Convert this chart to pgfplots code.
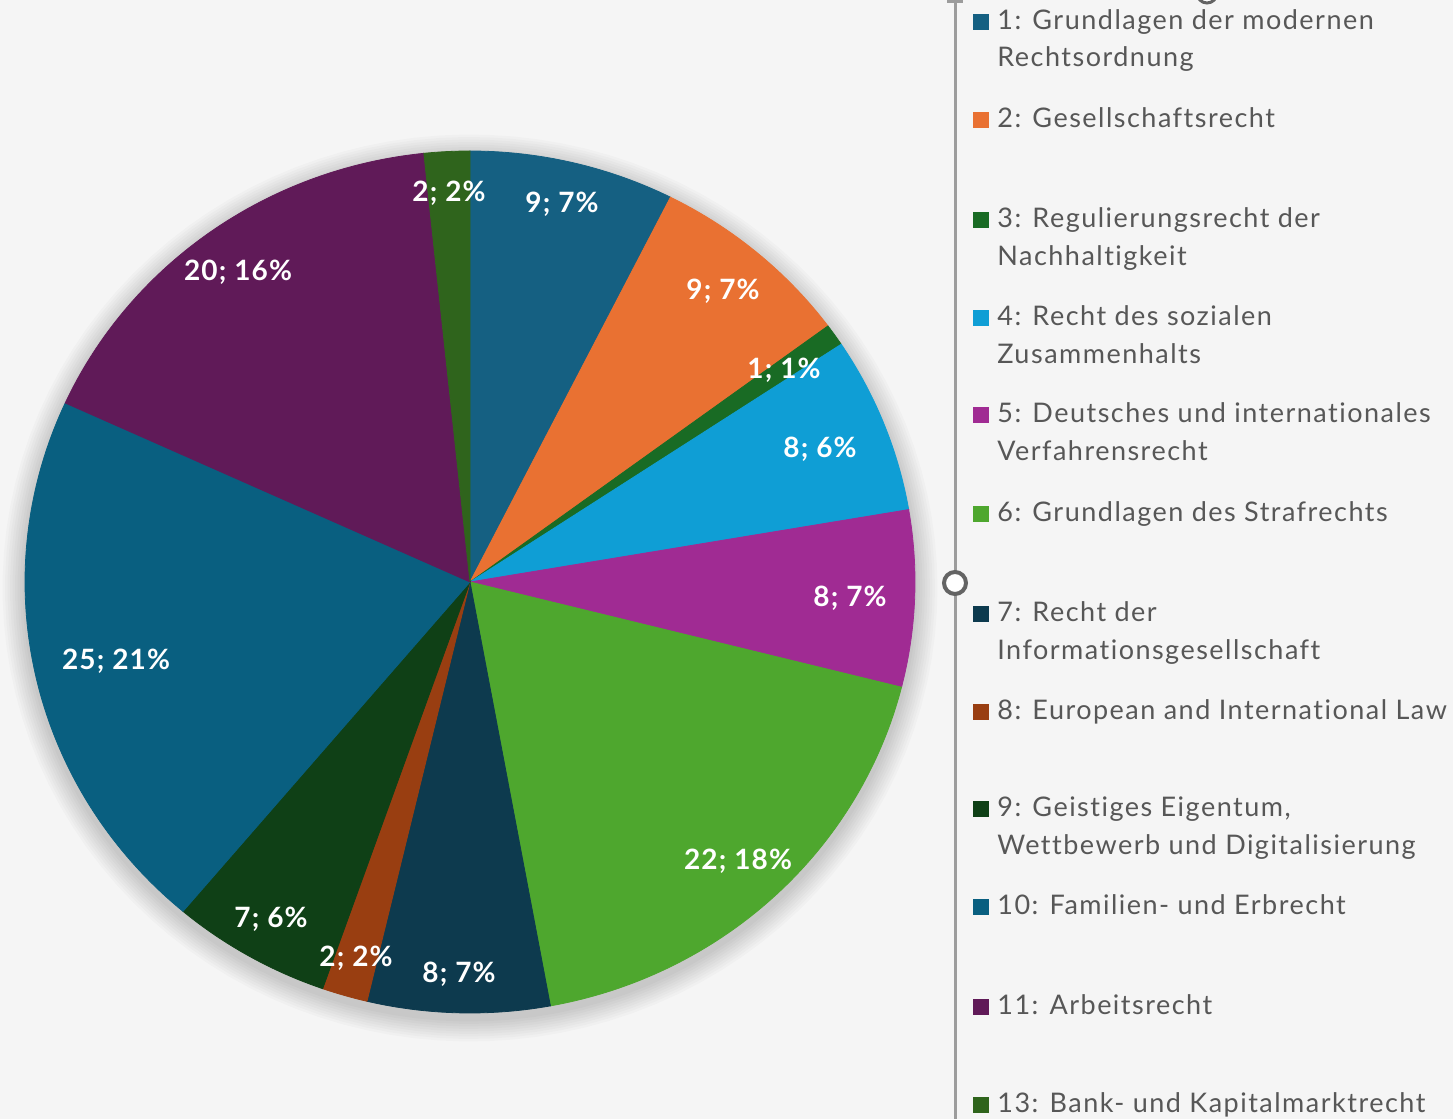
\documentclass[border=0pt]{standalone}
\usepackage{fontspec}
\setmainfont{Lato}
\newfontfamily\legfont[LetterSpace=5.5, Ligatures={NoCommon}]{Lato}
\newfontfamily\labfont[LetterSpace=4, Ligatures={NoCommon}]{Lato Bold}
\usepackage{pgfplots}
\pgfplotsset{compat=1.18}
\definecolor{c1}{HTML}{156082}
\definecolor{c2}{HTML}{E97132}
\definecolor{c3}{HTML}{196B24}
\definecolor{c4}{HTML}{0F9ED5}
\definecolor{c5}{HTML}{A02B93}
\definecolor{c6}{HTML}{4EA72E}
\definecolor{c7}{HTML}{0D3A4E}
\definecolor{c8}{HTML}{993E11}
\definecolor{c9}{HTML}{0F4016}
\definecolor{c10}{HTML}{095F80}
\definecolor{c11}{HTML}{601A58}
\definecolor{c12}{HTML}{2F641C}
\definecolor{bg}{HTML}{F5F5F5}
\definecolor{legtext}{HTML}{575757}
\definecolor{sep}{HTML}{9C9C9C}
\definecolor{handle}{HTML}{646464}
\begin{document}
\begin{tikzpicture}
\gdef\cum{0}
\begin{axis}[scale only axis, width=726.5pt, height=559.5pt,
  xmin=0, xmax=1453, ymin=-1119, ymax=0, hide axis, clip=true]
% background
\addplot[fill=bg, draw=none] coordinates {(0,0) (1453,0) (1453,-1119) (0,-1119)} -- cycle;
% shadow
\foreach \k in {1,...,9} {
  \edef\temp{\noexpand\addplot[fill=black, fill opacity=0.018, draw=none, domain=0:360, samples=120]
    ({470+(445+\k*2.5)*cos(x)},{-588+(431+\k*2.5)*sin(x)}) -- cycle;}
  \temp
}
% slices
\foreach \v [count=\i] in {9,9,1,8,8,22,8,2,7,25,20,2} {
  \pgfmathsetmacro\a{90-\cum/121*360}
  \pgfmathsetmacro\newcum{\cum+\v}
  \pgfmathsetmacro\b{90-\newcum/121*360}
  \xdef\cum{\newcum}
  \edef\temp{\noexpand\addplot[fill=c\i, draw=c\i, line width=0.4pt, domain=\b:\a, samples=80]
    ({470+445*cos(x)},{-582+431*sin(x)}) -- (axis cs:470,-582) -- cycle;}
  \temp
}
% separator line and handles
\addplot[draw=sep, line width=1.5pt] coordinates {(955,0) (955,-1119)};
\addplot[draw=sep, line width=1.5pt] coordinates {(947,-2) (963,-2)};
\node[circle, draw=handle, line width=2pt, fill=white, minimum size=11pt, inner sep=0pt] at (axis cs:955,-583) {};
\node[circle, draw=handle, line width=1.5pt, fill=white, minimum size=10pt, inner sep=0pt] at (axis cs:1207,7) {};
% data labels
\begin{scope}[every node/.style={anchor=base, inner sep=0pt, text=white, font=\labfont\fontsize{14}{16}\selectfont}]
\node at (axis cs:562,-213) {9; 7\%};
\node at (axis cs:723,-300) {9; 7\%};
\node at (axis cs:784,-379) {1; 1\%};
\node at (axis cs:820,-458) {8; 6\%};
\node at (axis cs:850,-607) {8; 7\%};
\node at (axis cs:738,-870) {22; 18\%};
\node at (axis cs:459,-983) {8; 7\%};
\node at (axis cs:356,-967) {2; 2\%};
\node at (axis cs:271,-928) {7; 6\%};
\node at (axis cs:116,-670) {25; 21\%};
\node at (axis cs:238,-281) {20; 16\%};
\node at (axis cs:449,-202) {2; 2\%};
\end{scope}
% legend
\begin{scope}[every node/.style={anchor=base west, inner sep=0pt, text=legtext, font=\legfont\fontsize{13.5}{15}\selectfont}]
\node at (axis cs:997,-30) {1: Grundlagen der modernen};
\node at (axis cs:997,-67) {Rechtsordnung};
\node at (axis cs:997,-128) {2: Gesellschaftsrecht};
\node at (axis cs:997,-228) {3: Regulierungsrecht der};
\node at (axis cs:997,-266) {Nachhaltigkeit};
\node at (axis cs:997,-326) {4: Recht des sozialen};
\node at (axis cs:997,-364) {Zusammenhalts};
\node at (axis cs:997,-423) {5: Deutsches und internationales};
\node at (axis cs:997,-461) {Verfahrensrecht};
\node at (axis cs:997,-522) {6: Grundlagen des Strafrechts};
\node at (axis cs:997,-622) {7: Recht der};
\node at (axis cs:997,-660) {Informationsgesellschaft};
\node at (axis cs:997,-720) {8: European and International Law};
\node at (axis cs:997,-817) {9: Geistiges Eigentum,};
\node at (axis cs:997,-855) {Wettbewerb und Digitalisierung};
\node at (axis cs:997,-915) {10: Familien- und Erbrecht};
\node at (axis cs:997,-1015) {11: Arbeitsrecht};
\node at (axis cs:997,-1113) {13: Bank- und Kapitalmarktrecht};
\end{scope}
\begin{scope}[every node/.style={inner sep=0pt, minimum size=8pt}]
\node[fill=c1] at (axis cs:981,-22) {};
\node[fill=c2] at (axis cs:981,-120) {};
\node[fill=c3] at (axis cs:981,-220) {};
\node[fill=c4] at (axis cs:981,-318) {};
\node[fill=c5] at (axis cs:981,-415) {};
\node[fill=c6] at (axis cs:981,-514) {};
\node[fill=c7] at (axis cs:981,-614) {};
\node[fill=c8] at (axis cs:981,-712) {};
\node[fill=c9] at (axis cs:981,-809) {};
\node[fill=c10] at (axis cs:981,-907) {};
\node[fill=c11] at (axis cs:981,-1007) {};
\node[fill=c12] at (axis cs:981,-1105) {};
\end{scope}
\end{axis}
\pgfresetboundingbox
\path[use as bounding box] (0,0) rectangle (726.5pt,559.5pt);
\end{tikzpicture}
\end{document}
